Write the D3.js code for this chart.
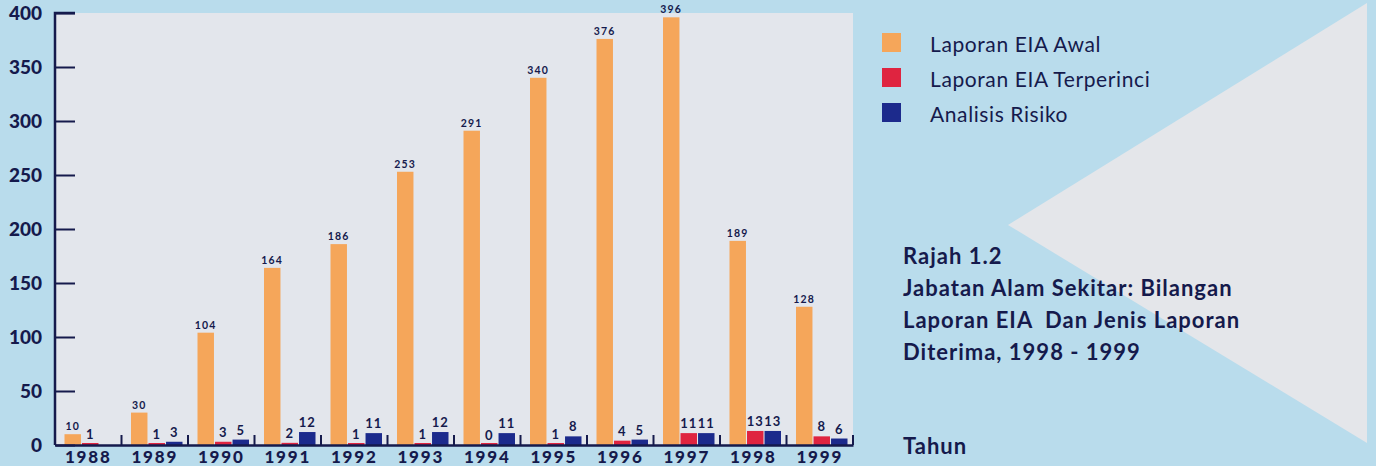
<!DOCTYPE html>
<html>
<head>
<meta charset="utf-8">
<script src="https://cdn.jsdelivr.net/npm/d3@7"></script>
<style>
  body { margin: 0; background: #b9dcec; }
  svg { display: block; }
  text { font-family: Lato, "Open Sans", sans-serif; fill: #151a4c; white-space: pre; }
</style>
</head>
<body>
<svg width="1376" height="466"></svg>
<script>
// data
var years = ["1988", "1989", "1990", "1991", "1992", "1993", "1994", "1995", "1996", "1997", "1998", "1999"];
var awal = [10, 30, 104, 164, 186, 253, 291, 340, 376, 396, 189, 128];
var terperinci = [1, 1, 3, 2, 1, 1, 0, 1, 4, 11, 13, 8];
var risiko = [null, 3, 5, 12, 11, 12, 11, 8, 5, 11, 13, 6];
var seriesNames = ["Laporan EIA Awal", "Laporan EIA Terperinci", "Analisis Risiko"];
var yTicks = [0, 50, 100, 150, 200, 250, 300, 350, 400];
var titleLines = ["Rajah 1.2", "Jabatan Alam Sekitar: Bilangan", "Laporan EIA  Dan Jenis Laporan", "Diterima, 1998 - 1999"];
var xTitle = "Tahun";

var colors = ["#f5a65a", "#df2440", "#1c2a8c"];

var svg = d3.select("svg");
var ink = "#151a4c";

// background shapes
svg.append("rect").attr("x", 0).attr("y", 0).attr("width", 1376).attr("height", 466).attr("fill", "#b9dcec");
svg.append("path")
  .attr("d", "M1008,225 L1367,3 L1367,443 Z")
  .attr("fill", "#e4e6ea");

var margin = { top: 13, left: 55 },
  width = 798,
  height = 432;

var g = svg.append("g").attr("transform", "translate(" + margin.left + "," + margin.top + ")");

g.append("rect")
  .attr("x", 0).attr("y", 0)
  .attr("width", width).attr("height", height)
  .attr("fill", "#e3e6ec");

var x = d3.scaleBand().domain(years).range([0, width]);
var inner = d3.scaleBand().domain([0, 1, 2]).range([9.5, 61]).paddingInner(0.06);
var y = d3.scaleLinear().domain([0, 400]).range([height, 0]);

var rows = years.map(function (yr, i) {
  return { year: yr, vals: [awal[i], terperinci[i], risiko[i]] };
});

function items(d) {
  return d.vals.map(function (v, k) { return { v: v, k: k }; })
    .filter(function (e) { return e.v !== null; });
}

// bars
var grp = g.selectAll(".yr").data(rows).enter().append("g")
  .attr("transform", function (d) { return "translate(" + x(d.year) + ",0)"; });

grp.selectAll("rect.bar")
  .data(items)
  .enter().append("rect")
  .attr("x", function (d) { return inner(d.k); })
  .attr("width", inner.bandwidth())
  .attr("y", function (d) { return Math.min(y(d.v), height - 2); })
  .attr("height", function (d) { return Math.max(height - y(d.v), 2); })
  .attr("fill", function (d) { return colors[d.k]; });

grp.selectAll("text.val")
  .data(items)
  .enter().append("text")
  .attr("x", function (d) { return inner(d.k) + inner.bandwidth() / 2; })
  .attr("y", function (d) { return y(d.v) - (d.k === 0 ? 4 : 5); })
  .attr("text-anchor", "middle")
  .attr("font-weight", "bold")
  .attr("font-size", function (d) { return d.k === 0 ? 10.5 : 13; })
  .attr("letter-spacing", function (d) { return d.k === 0 ? 1.2 : 1; })
  .text(function (d) { return d.v; });

// y axis
var yAxis = g.append("g")
  .call(d3.axisLeft(y).tickValues(yTicks).tickSize(-20).tickPadding(13));
yAxis.selectAll("line").attr("stroke", ink).attr("stroke-width", 2);
yAxis.select(".domain").attr("stroke", ink).attr("stroke-width", 2.5).attr("d", "M0," + height + "V0H20");
yAxis.selectAll("text")
  .attr("font-size", 19)
  .attr("font-weight", 900)
  .attr("fill", ink);

// x axis
var xAxis = g.append("g")
  .attr("transform", "translate(0," + height + ")")
  .call(d3.axisBottom(x).tickSize(0).tickPadding(6));
xAxis.select(".domain").attr("stroke", ink).attr("stroke-width", 2.5);
xAxis.selectAll("text")
  .attr("font-size", 17)
  .attr("font-weight", 900)
  .attr("letter-spacing", 1.8)
  .attr("fill", ink);

// group boundary ticks
g.selectAll(".gt").data(years).enter().append("line")
  .attr("x1", function (d) { return x(d) + x.step(); })
  .attr("x2", function (d) { return x(d) + x.step(); })
  .attr("y1", height - 10)
  .attr("y2", height)
  .attr("stroke", ink)
  .attr("stroke-width", 2);

// legend
var lg = svg.append("g").attr("transform", "translate(882,33)");
var li = lg.selectAll("g").data(seriesNames).enter().append("g")
  .attr("transform", function (d, i) { return "translate(0," + i * 35 + ")"; });
li.append("rect").attr("width", 19).attr("height", 19).attr("fill", function (d, i) { return colors[i]; });
li.append("text").attr("x", 48).attr("y", 19).attr("font-size", 21).attr("letter-spacing", 0.6)
  .text(function (d) { return d; });

// caption
svg.append("g").selectAll("text").data(titleLines).enter().append("text")
  .attr("x", 903)
  .attr("y", function (d, i) { return 264 + i * 32; })
  .attr("font-size", 22)
  .attr("font-weight", "bold")
  .attr("letter-spacing", 1)
  .text(function (d) { return d; });

svg.append("text")
  .attr("x", 903).attr("y", 454)
  .attr("font-size", 22)
  .attr("font-weight", "bold")
  .attr("letter-spacing", 1)
  .text(xTitle);
</script>
</body>
</html>
